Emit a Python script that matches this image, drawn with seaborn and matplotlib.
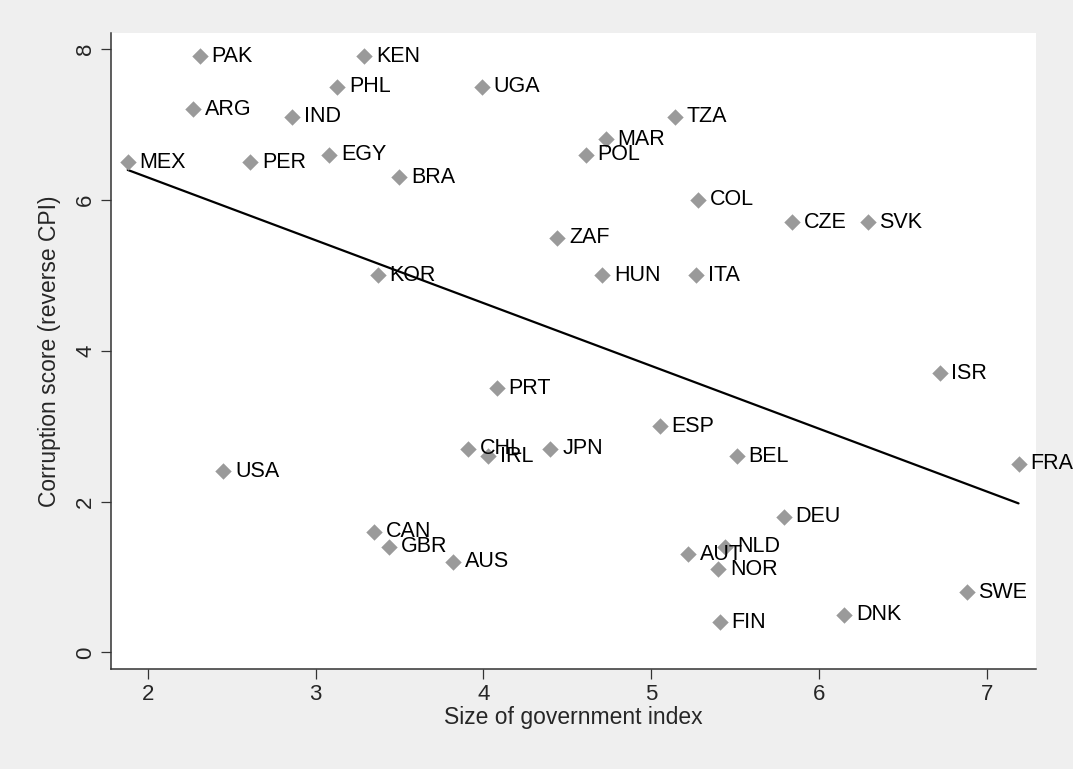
import matplotlib
matplotlib.use("Agg")
import matplotlib.pyplot as plt
import pandas as pd
import seaborn as sns

# Dados
paises = ["PAK", "KEN", "PHL", "UGA", "ARG", "IND", "MEX", "PER", "EGY", "BRA",
          "TZA", "MAR", "POL", "COL", "CZE", "SVK", "ZAF", "KOR", "HUN", "ITA",
          "PRT", "CHL", "IRL", "JPN", "USA", "CAN", "GBR", "AUS",
          "ISR", "ESP", "BEL", "FRA", "DEU", "AUT", "NLD", "NOR", "SWE", "DNK", "FIN"]
tamanho_governo = [2.31, 3.29, 3.13, 3.99, 2.27, 2.86, 1.88, 2.61, 3.08, 3.50,
                   5.14, 4.73, 4.61, 5.28, 5.84, 6.29, 4.44, 3.37, 4.71, 5.27,
                   4.08, 3.91, 4.03, 4.40, 2.45, 3.35, 3.44, 3.82,
                   6.72, 5.05, 5.51, 7.19, 5.79, 5.22, 5.44, 5.40, 6.88, 6.15, 5.41]
corrupcao = [7.9, 7.9, 7.5, 7.5, 7.2, 7.1, 6.5, 6.5, 6.6, 6.3,
             7.1, 6.8, 6.6, 6.0, 5.7, 5.7, 5.5, 5.0, 5.0, 5.0,
             3.5, 2.7, 2.6, 2.7, 2.4, 1.6, 1.4, 1.2,
             3.7, 3.0, 2.6, 2.5, 1.8, 1.3, 1.4, 1.1, 0.8, 0.5, 0.4]
ticks_x = [2, 3, 4, 5, 6, 7]
ticks_y = [0, 2, 4, 6, 8]

df = pd.DataFrame({"pais": paises, "x": tamanho_governo, "y": corrupcao})

sns.set_theme(style="white")
plt.rcParams["font.family"] = ["Liberation Sans", "DejaVu Sans"]

fundo = "#efefef"
cinza = "#9a9a9a"

fig = plt.figure(figsize=(10.73, 7.69), dpi=100, facecolor=fundo)
ax = fig.add_axes([0.1034, 0.130, 0.8621, 0.827])
ax.set_facecolor("white")

sns.scatterplot(x="x", y="y", data=df, marker="D", s=70, color=cinza,
                edgecolor=cinza, linewidth=0, ax=ax, zorder=3)
sns.regplot(x="x", y="y", data=df, scatter=False, ci=None, ax=ax,
            line_kws={"color": "black", "linewidth": 1.6, "zorder": 2})

# rótulos dos países
for _, linha in df.iterrows():
    ax.annotate(linha["pais"], (linha["x"], linha["y"]), xytext=(8.5, 0),
                textcoords="offset points", va="center", ha="left",
                fontsize=15.5, color="black", zorder=4)

ax.set_xlim(1.78, 7.294)
ax.set_ylim(-0.22, 8.21)
ax.set_xticks(ticks_x)
ax.set_yticks(ticks_y)
ax.set_xticklabels([str(t) for t in ticks_x], fontsize=16)
ax.set_yticklabels([str(t) for t in ticks_y], fontsize=16, rotation=90, va="center")
ax.tick_params(axis="both", direction="out", length=7.5, width=0.9,
               color="#333333", pad=3, bottom=True, left=True)

for lado in ["top", "right"]:
    ax.spines[lado].set_visible(False)
for lado in ["left", "bottom"]:
    ax.spines[lado].set_color("#333333")
    ax.spines[lado].set_linewidth(1.1)

ax.set_xlabel("Size of government index", fontsize=16.5, labelpad=1)
ax.set_ylabel("Corruption score (reverse CPI)", fontsize=16.5, labelpad=10)

fig.savefig("out.png", dpi=100, facecolor=fundo)
